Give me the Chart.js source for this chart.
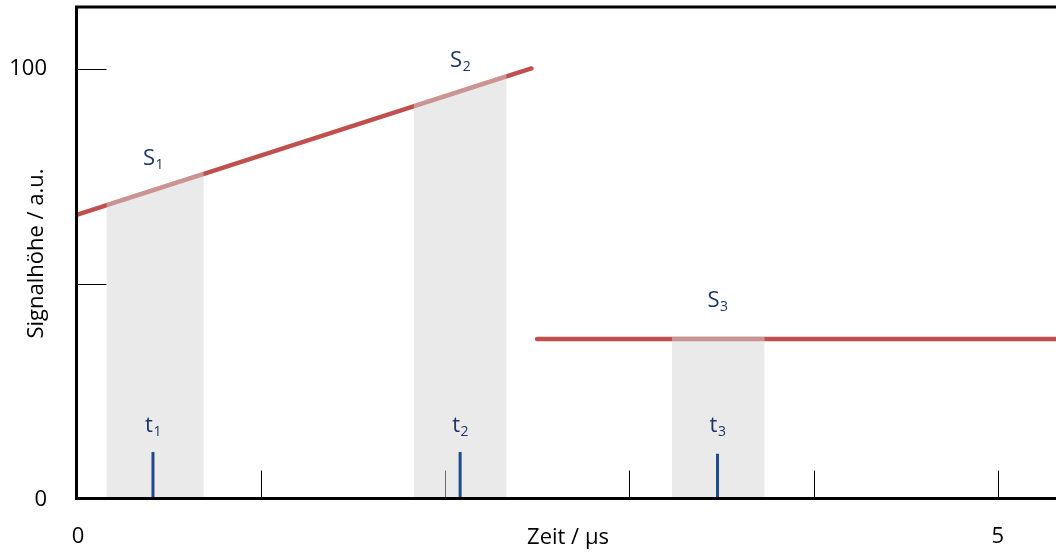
<!DOCTYPE html>
<html>
<head>
<meta charset="utf-8">
<script src="https://cdn.jsdelivr.net/npm/chart.js@4"></script>
<style>
html,body{margin:0;padding:0;background:#fff;}
#wrap{width:1056px;height:556px;}
</style>
</head>
<body>
<div id="wrap"><canvas id="c" width="1056" height="556"></canvas></div>
<script>
// ---- data ----
const xMin = 0, xMax = 5.316;
const yMin = 0, yMax = 114.4;
const xTickValues = [1, 2, 3, 4, 5];
const xLabelValues = [0, 5];
const yTickValues = [50, 100];
const yLabelValues = [0, 100];

const line1X = [0, 2.469];
const line1Y = [66.0, 100.1];
const line2X = [2.5, 5.316];
const line2Y = [37.1, 37.1];

const winStart = [0.1625, 1.830, 3.232];
const winEnd = [0.6906, 2.334, 3.735];
const winTopStart = [68.8, 91.9, 37.8];
const winTopEnd = [76.1, 98.8, 37.8];

const markerT = [0.415, 2.082, 3.479];
const markerH = [10.8, 10.8, 10.4];

const sLabelY = [77.6, 100.5, 44.6];
const tLabelY = [15.4, 15.4, 15.4];
const subNames = ['1', '2', '3'];

const xTitle = 'Zeit / µs';
const yTitle = 'Signalhöhe / a.u.';

// ---- styles ----
const RED = '#C0504D';
const NAVY = '#1B3668';
const TICKBLUE = '#1F4A8A';
const BOXFILL = 'rgba(214,214,214,0.51)';
const FONT = '"Open Sans", sans-serif';

const datasets = [];
datasets.push({
  data: line1X.map((x, i) => ({x, y: line1Y[i]})),
  borderColor: RED, borderWidth: 4.5, borderCapStyle: 'round', pointRadius: 0, fill: false, order: 2
});
datasets.push({
  data: line2X.map((x, i) => ({x, y: line2Y[i]})),
  borderColor: RED, borderWidth: 4.5, borderCapStyle: 'round', pointRadius: 0, fill: false, order: 2
});
winStart.forEach((s, i) => {
  datasets.push({
    data: [{x: s, y: winTopStart[i]}, {x: winEnd[i], y: winTopEnd[i]}],
    borderColor: 'rgba(0,0,0,0)', borderWidth: 0, pointRadius: 0,
    backgroundColor: BOXFILL, fill: 'origin', order: 1
  });
});
markerT.forEach((t, i) => {
  datasets.push({
    data: [{x: t, y: 0}, {x: t, y: markerH[i]}],
    borderColor: TICKBLUE, borderWidth: 3, pointRadius: 0, fill: false, order: 0
  });
});

function drawSubLabel(ctx, main, sub, cx, baseY) {
  ctx.save();
  ctx.fillStyle = NAVY;
  ctx.textBaseline = 'alphabetic';
  ctx.textAlign = 'left';
  const mainFont = '22px ' + FONT, subFont = '14px ' + FONT;
  ctx.font = mainFont;
  const w1 = ctx.measureText(main).width;
  ctx.font = subFont;
  const w2 = ctx.measureText(sub).width;
  const x0 = cx - (w1 + w2) / 2;
  ctx.font = mainFont;
  ctx.fillText(main, x0, baseY);
  ctx.font = subFont;
  ctx.fillText(sub, x0 + w1 + 0.5, baseY + 4);
  ctx.restore();
}

const decor = {
  id: 'decor',
  beforeDatasetsDraw(chart) {
    const {ctx, chartArea: a, scales: {x, y}} = chart;
    ctx.save();
    ctx.strokeStyle = '#000';
    ctx.lineWidth = 1;
    xTickValues.forEach(v => {
      const px = Math.round(x.getPixelForValue(v)) + 0.5;
      ctx.beginPath(); ctx.moveTo(px, a.bottom); ctx.lineTo(px, a.bottom - 28); ctx.stroke();
    });
    yTickValues.forEach(v => {
      const py = Math.round(y.getPixelForValue(v)) + 0.5;
      ctx.beginPath(); ctx.moveTo(a.left, py); ctx.lineTo(a.left + 30, py); ctx.stroke();
    });
    ctx.restore();
  },
  afterDatasetsDraw(chart) {
    const {ctx, chartArea: a, scales: {x, y}} = chart;
    ctx.save();
    // frame: left, bottom, top
    ctx.strokeStyle = '#000';
    ctx.lineWidth = 3;
    ctx.beginPath();
    ctx.moveTo(a.right + 2, a.top); ctx.lineTo(a.left, a.top);
    ctx.lineTo(a.left, a.bottom); ctx.lineTo(a.right + 2, a.bottom);
    ctx.stroke();
    // tick labels
    ctx.fillStyle = '#000';
    ctx.font = '22px ' + FONT;
    ctx.textBaseline = 'middle';
    ctx.textAlign = 'right';
    yLabelValues.forEach(v => ctx.fillText(String(v), 47, y.getPixelForValue(v) + (v === 0 ? 1.5 : 0)));
    ctx.textAlign = 'center';
    xLabelValues.forEach(v => ctx.fillText(String(v), x.getPixelForValue(v) + (v === 0 ? 1.5 : 0), 537));
    // axis titles
    ctx.fillText(xTitle, 568, 538);
    ctx.save();
    ctx.translate(36.5, 253.5);
    ctx.rotate(-Math.PI / 2);
    ctx.fillText(yTitle, 0, 0);
    ctx.restore();
    ctx.restore();
    // annotations
    markerT.forEach((t, i) => {
      const cx = x.getPixelForValue(t);
      drawSubLabel(ctx, 'S', subNames[i], cx, y.getPixelForValue(sLabelY[i]));
      drawSubLabel(ctx, 't', subNames[i], cx, y.getPixelForValue(tLabelY[i]));
    });
  }
};

new Chart(document.getElementById('c'), {
  type: 'line',
  data: {datasets},
  options: {
    responsive: false,
    devicePixelRatio: 1,
    animation: false,
    layout: {padding: {left: 76.5, top: 7, right: 0, bottom: 57.5}},
    plugins: {legend: {display: false}, tooltip: {enabled: false}},
    scales: {
      x: {type: 'linear', min: xMin, max: xMax, display: false},
      y: {type: 'linear', min: yMin, max: yMax, display: false}
    }
  },
  plugins: [decor]
});
</script>
</body>
</html>
